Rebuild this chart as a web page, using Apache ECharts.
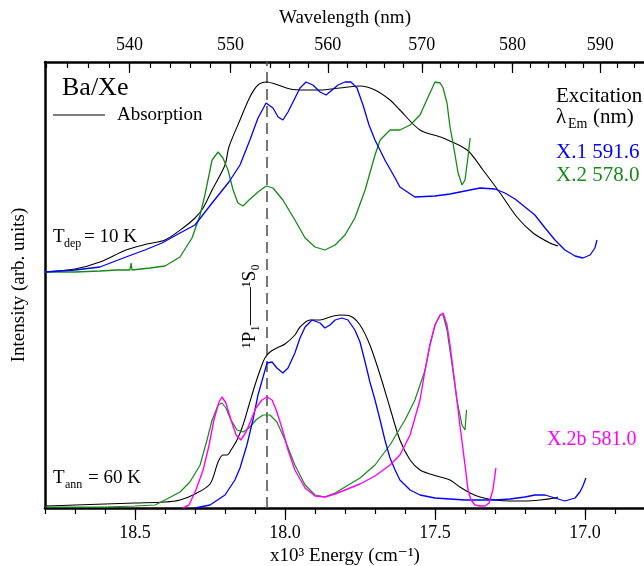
<!DOCTYPE html>
<html><head><meta charset="utf-8">
<script src="https://cdn.jsdelivr.net/npm/echarts@6/dist/echarts.min.js"></script>
<style>html,body{margin:0;padding:0;background:#fff}#c{width:644px;height:566px}</style>
</head><body><div id="c"></div>
<script>
// Energy in 10^3 cm^-1, intensity in arb. units
const energyTicks = [17.0, 17.5, 18.0, 18.5];
const wavelengthTicks = [540, 550, 560, 570, 580, 590];
const transitionEnergy = 18.06; // 1P1 - 1S0
const upperOffset = 2.36;        // vertical offset of the Tdep = 10 K traces

// ---- Tdep = 10 K ----
const absUpper = [[18.80,0.00],[18.70,0.03],[18.617,0.10],[18.53,0.22],[18.46,0.28],[18.40,0.32],[18.34,0.44],[18.30,0.54],[18.273,0.64],[18.243,0.82],[18.20,1.07],[18.187,1.25],[18.15,1.52],[18.117,1.75],[18.09,1.87],[18.06,1.90],[18.033,1.88],[17.983,1.83],[17.933,1.82],[17.883,1.82],[17.817,1.84],[17.75,1.86],[17.70,1.82],[17.65,1.72],[17.617,1.62],[17.55,1.42],[17.473,1.34],[17.393,1.22],[17.34,1.02],[17.283,0.79],[17.227,0.55],[17.173,0.39],[17.117,0.29],[17.09,0.26]];
const x1Upper = [[18.80,0.00],[18.70,0.02],[18.617,0.05],[18.53,0.15],[18.467,0.22],[18.41,0.29],[18.35,0.39],[18.30,0.47],[18.243,0.69],[18.187,0.90],[18.15,1.07],[18.117,1.32],[18.09,1.54],[18.063,1.69],[18.04,1.64],[18.023,1.55],[18.007,1.52],[17.99,1.60],[17.97,1.72],[17.95,1.84],[17.93,1.90],[17.907,1.87],[17.883,1.80],[17.863,1.77],[17.843,1.82],[17.823,1.87],[17.80,1.90],[17.78,1.90],[17.76,1.84],[17.74,1.67],[17.72,1.47],[17.70,1.32],[17.667,1.12],[17.633,0.94],[17.617,0.85],[17.567,0.75],[17.50,0.76],[17.45,0.78],[17.40,0.81],[17.35,0.84],[17.30,0.83],[17.267,0.79],[17.233,0.73],[17.20,0.65],[17.167,0.57],[17.133,0.44],[17.10,0.32],[17.067,0.22],[17.033,0.16],[17.007,0.14],[16.983,0.17],[16.967,0.24],[16.96,0.32]];
const x2Upper = [[18.80,0.00],[18.70,0.00],[18.617,0.01],[18.56,0.02],[18.517,0.02],[18.513,0.09],[18.51,0.02],[18.45,0.04],[18.40,0.06],[18.35,0.15],[18.31,0.34],[18.283,0.57],[18.267,0.77],[18.243,1.12],[18.223,1.20],[18.207,1.14],[18.19,1.02],[18.173,0.82],[18.157,0.69],[18.14,0.66],[18.12,0.72],[18.09,0.80],[18.063,0.86],[18.04,0.84],[18.007,0.72],[17.967,0.52],[17.933,0.34],[17.90,0.25],[17.867,0.22],[17.833,0.27],[17.80,0.37],[17.767,0.54],[17.733,0.82],[17.70,1.17],[17.683,1.32],[17.65,1.42],[17.617,1.42],[17.583,1.47],[17.55,1.57],[17.523,1.75],[17.50,1.90],[17.483,1.89],[17.473,1.84],[17.46,1.69],[17.45,1.45],[17.44,1.29],[17.423,0.99],[17.41,0.87],[17.40,0.92],[17.39,1.15],[17.383,1.34]];

// ---- Tann = 60 K ----
const absLower = [[18.80,0.02],[18.70,0.03],[18.60,0.04],[18.50,0.05],[18.40,0.06],[18.35,0.08],[18.30,0.14],[18.25,0.24],[18.223,0.46],[18.207,0.53],[18.193,0.53],[18.18,0.58],[18.16,0.68],[18.14,0.83],[18.12,1.03],[18.10,1.23],[18.083,1.38],[18.067,1.50],[18.05,1.56],[18.027,1.60],[18.00,1.64],[17.967,1.73],[17.95,1.81],[17.917,1.88],[17.883,1.88],[17.85,1.91],[17.817,1.93],[17.783,1.92],[17.75,1.83],[17.717,1.63],[17.683,1.33],[17.65,1.00],[17.617,0.68],[17.583,0.48],[17.55,0.38],[17.517,0.34],[17.483,0.31],[17.45,0.28],[17.417,0.21],[17.383,0.15],[17.35,0.11],[17.30,0.08],[17.25,0.07],[17.20,0.07],[17.15,0.08],[17.10,0.10],[17.09,0.11]];
const x1Lower = [[18.30,0.00],[18.25,0.03],[18.20,0.13],[18.167,0.28],[18.15,0.40],[18.127,0.63],[18.107,0.88],[18.09,1.13],[18.073,1.31],[18.06,1.45],[18.043,1.46],[18.027,1.40],[18.007,1.35],[17.99,1.40],[17.967,1.55],[17.95,1.70],[17.933,1.81],[17.91,1.88],[17.883,1.85],[17.867,1.80],[17.85,1.83],[17.833,1.88],[17.81,1.90],[17.79,1.88],[17.767,1.78],[17.75,1.66],[17.733,1.46],[17.717,1.26],[17.70,1.08],[17.683,0.88],[17.667,0.68],[17.65,0.50],[17.633,0.38],[17.617,0.28],[17.583,0.18],[17.55,0.13],[17.50,0.10],[17.45,0.09],[17.40,0.08],[17.35,0.08],[17.30,0.08],[17.25,0.09],[17.20,0.11],[17.167,0.13],[17.133,0.13],[17.10,0.10],[17.067,0.07],[17.033,0.10],[17.017,0.16],[17.007,0.22],[16.997,0.30]];
const x2Lower = [[18.80,0.01],[18.60,0.01],[18.50,0.02],[18.433,0.03],[18.40,0.08],[18.35,0.16],[18.317,0.26],[18.283,0.43],[18.26,0.68],[18.243,0.88],[18.223,1.03],[18.21,1.05],[18.197,1.00],[18.18,0.88],[18.16,0.78],[18.14,0.76],[18.12,0.80],[18.097,0.88],[18.073,0.93],[18.05,0.93],[18.027,0.86],[18.00,0.68],[17.967,0.43],[17.933,0.23],[17.90,0.13],[17.867,0.11],[17.833,0.15],[17.80,0.21],[17.75,0.30],[17.70,0.43],[17.65,0.63],[17.60,0.88],[17.567,1.08],[17.533,1.38],[17.517,1.63],[17.50,1.83],[17.483,1.93],[17.473,1.93],[17.46,1.78],[17.443,1.43],[17.427,1.08],[17.41,0.83],[17.40,0.78],[17.395,0.98]];
const x2bLower = [[18.34,0.00],[18.32,0.03],[18.297,0.18],[18.273,0.38],[18.253,0.63],[18.237,0.88],[18.22,1.06],[18.21,1.11],[18.197,1.05],[18.18,0.88],[18.163,0.73],[18.147,0.68],[18.13,0.76],[18.113,0.88],[18.097,1.00],[18.077,1.08],[18.06,1.11],[18.043,1.08],[18.027,0.96],[18.01,0.80],[17.99,0.58],[17.967,0.38],[17.933,0.20],[17.90,0.12],[17.867,0.11],[17.833,0.14],[17.80,0.18],[17.75,0.24],[17.70,0.32],[17.65,0.43],[17.617,0.53],[17.583,0.73],[17.55,1.08],[17.533,1.38],[17.517,1.63],[17.50,1.83],[17.483,1.93],[17.473,1.95],[17.46,1.83],[17.45,1.63],[17.433,1.23],[17.417,0.83],[17.40,0.43],[17.39,0.18],[17.38,0.08],[17.367,0.03],[17.35,0.02],[17.333,0.02],[17.32,0.05],[17.307,0.18],[17.297,0.40]];

const SERIF = '"Liberation Serif","DejaVu Serif",serif';
const BLUE = '#0000ff', GREEN = '#168a16', MAG = '#ff00ff', BLACK = '#000000';

function shift(arr, off) { return arr.map(p => [p[0], p[1] + off]); }

const minorEnergy = [];
for (let i = 0; i <= 20; i++) minorEnergy.push(+(16.8 + i * 0.1).toFixed(1));
const minorWl = [];
for (let w = 532; w <= 594; w += 2) minorWl.push(10000 / w);
const majorWlE = wavelengthTicks.map(w => 10000 / w);

const chart = echarts.init(document.getElementById('c'), null, {renderer: 'canvas'});
const baseX = {type: 'value', min: 16.8, max: 18.8, inverse: true, splitLine: {show: false}};
const axisLineStyle = {show: true, lineStyle: {color: '#000', width: 2.5}};
const txt = (text, x, y, size, color, extra) => Object.assign({
  type: 'text', x: x, y: y, z: 100,
  style: {text: text, fontSize: size, fontFamily: SERIF, fill: color || '#000', verticalAlign: 'middle', align: 'left'}
}, extra || {});

const line = (name, data, color, w, smooth) => ({
  name: name, type: 'line', data: data, xAxisIndex: 0, yAxisIndex: 0,
  showSymbol: false, symbol: 'none', smooth: smooth || 0, animation: false,
  lineStyle: {color: color, width: w}
});

chart.setOption({
  animation: false,
  grid: {left: 45, right: -1, top: 62, bottom: 58, containLabel: false, outerBoundsMode: 'none'},
  xAxis: [
    Object.assign({}, baseX, {position: 'bottom', axisLine: axisLineStyle,
      axisTick: {show: true, inside: false, length: 12, lineStyle: {color: '#000', width: 1.2}, customValues: energyTicks},
      axisLabel: {show: true, margin: 16, fontSize: 18, fontFamily: SERIF, color: '#000', customValues: energyTicks, formatter: v => v.toFixed(1)},
      name: 'x10\u00B3 Energy (cm\u207B\u00B9)', nameLocation: 'middle', nameGap: 38,
      nameTextStyle: {fontSize: 19, fontFamily: SERIF, color: '#000'}}),
    Object.assign({}, baseX, {position: 'bottom', axisLine: {show: false},
      axisTick: {show: true, inside: false, length: 6, lineStyle: {color: '#000', width: 1.2}, customValues: minorEnergy},
      axisLabel: {show: false}}),
    Object.assign({}, baseX, {position: 'top', axisLine: axisLineStyle,
      axisTick: {show: true, inside: true, length: 11, lineStyle: {color: '#000', width: 1.2}, customValues: majorWlE},
      axisLabel: {show: true, margin: 8, fontSize: 18, fontFamily: SERIF, color: '#000', customValues: majorWlE, formatter: v => String(Math.round(10000 / v))},
      name: 'Wavelength (nm)', nameLocation: 'middle', nameGap: 34,
      nameTextStyle: {fontSize: 19, fontFamily: SERIF, color: '#000'}}),
    Object.assign({}, baseX, {position: 'top', axisLine: {show: false},
      axisTick: {show: true, inside: true, length: 6, lineStyle: {color: '#000', width: 1.2}, customValues: minorWl},
      axisLabel: {show: false}})
  ],
  yAxis: [{type: 'value', min: 0, max: 4.46, position: 'left',
    axisLine: axisLineStyle, axisTick: {show: false}, axisLabel: {show: false}, splitLine: {show: false},
    name: 'Intensity (arb. units)', nameLocation: 'middle', nameGap: 16, nameRotate: 90,
    nameTextStyle: {fontSize: 19, fontFamily: SERIF, color: '#000'}}],
  series: [
    {type: 'line', data: [[transitionEnergy, 0], [transitionEnergy, 4.46]], showSymbol: false, symbol: 'none',
      lineStyle: {color: '#555', width: 1.6, type: [11, 6]}, animation: false, z: 1},
    line('abs10', shift(absUpper, upperOffset), BLACK, 1.1, 0.3),
    line('x2_10', shift(x2Upper, upperOffset), GREEN, 1.3, 0),
    line('x1_10', shift(x1Upper, upperOffset), BLUE, 1.3, 0),
    line('abs60', absLower, BLACK, 1.1, 0.3),
    line('x2_60', x2Lower, GREEN, 1.2, 0),
    line('x1_60', x1Lower, BLUE, 1.3, 0),
    line('x2b_60', x2bLower, MAG, 1.4, 0)
  ],
  graphic: [
    txt('Ba/Xe', 62, 88, 26),
    {type: 'line', shape: {x1: 53, y1: 115, x2: 105, y2: 115}, style: {stroke: '#000', lineWidth: 1.1}, z: 100},
    txt('Absorption', 117, 115, 19),
    txt('T', 53, 237, 19), txt('dep', 64, 244, 12), txt('= 10 K', 84, 237, 19),
    txt('T', 53, 478, 19), txt('ann', 65, 485, 12), txt('= 60 K', 88, 478, 19),
    txt('Excitation', 556, 96, 21),
    txt('\u03BB', 556, 117, 21), txt('Em', 568, 124, 14), txt('(nm)', 593, 117, 21),
    txt('X.1 591.6', 556, 152, 21, BLUE),
    txt('X.2 578.0', 556, 175, 21, GREEN),
    txt('X.2b 581.0', 547, 440, 20, MAG),
    {type: 'text', x: 250, y: 306, rotation: Math.PI / 2, z: 100,
      style: {text: '\u00B9P\u2081\u2014\u2014\u00B9S\u2080', fontSize: 19, fontFamily: SERIF, fill: '#000', align: 'center', verticalAlign: 'middle'}}
  ]
});
</script></body></html>
